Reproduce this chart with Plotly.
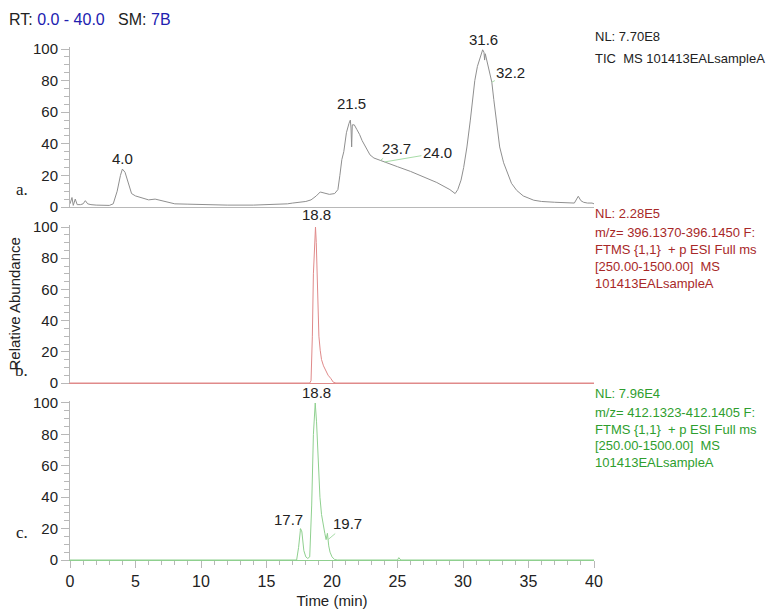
import numpy as np
import plotly.graph_objects as go

# ---------------- data ----------------
tic_rt = [0.0, 0.15, 0.25, 0.4, 0.55, 0.8, 1.0, 1.17, 1.35, 1.6, 2.0, 2.5, 3.0, 3.3, 3.6, 3.85, 4.0, 4.2,
          4.45, 4.7, 5.0, 5.5, 6.0, 6.5, 7.0, 7.5, 8.0, 9.0, 10.0, 12.0, 14.0, 15.0, 16.0, 16.6, 17.0,
          17.5, 18.0, 18.4, 18.8, 19.1, 19.4, 19.8, 20.2, 20.45, 20.6, 20.75, 20.9, 21.1, 21.3, 21.4,
          21.45, 21.5, 21.55, 21.7, 21.9, 22.1, 22.3, 22.6, 22.9, 23.2, 23.5, 23.7, 24.0, 24.5, 25.0,
          26.0, 27.0, 28.0, 29.0, 29.4, 29.6, 29.85, 30.05, 30.3, 30.56, 30.75, 30.9, 31.1, 31.3, 31.5,
          31.6, 31.65, 31.7, 31.85, 32.0, 32.1, 32.2, 32.35, 32.5, 32.65, 32.8, 33.1, 33.4, 33.7, 34.1,
          34.6, 35.4, 36.0, 37.0, 37.9, 38.5, 38.8, 39.0, 39.2, 39.5, 39.85, 40.0]
tic_ab = [2, 6, 1, 5, 1.5, 1.5, 2, 4, 2, 1.5, 1.2, 1, 1, 2, 10, 20, 24, 22,
          15, 8.5, 7, 5.5, 4.5, 5, 4, 3, 2, 1.8, 1.5, 1.2, 1.2, 1.5, 1.7, 2, 2.5,
          3, 3.5, 4.5, 7, 9.5, 9, 8, 8.5, 11, 20, 30, 35, 47, 53, 55,
          50, 38, 52, 52, 49, 46, 42, 37, 33, 31, 30, 29.5, 28.5, 27, 25.5,
          22.5, 19, 15.5, 11, 8.5, 11, 17, 25, 38, 55, 68, 80, 89, 95, 99.5,
          98, 93, 97, 91, 86, 82, 79, 68, 59, 48, 38, 28, 21, 15, 10.5,
          7, 4.3, 3.5, 3, 2.5, 2.5, 6.8, 4, 3, 2.5, 2.5, 2]

m396_rt = [0.0, 18.3, 18.4, 18.5, 18.58, 18.66, 18.74, 18.8, 18.86, 18.93, 19.0, 19.1, 19.2, 19.35,
           19.5, 19.7, 19.9, 20.1, 20.3, 40.0]
m396_ab = [0, 0, 1.5, 30, 70, 92, 100, 90, 70, 45, 30, 21, 15, 11, 8, 5, 3, 0.5, 0, 0]

m412_rt = [0.0, 17.3, 17.45, 17.6, 17.7, 17.85, 18.0, 18.15, 18.3, 18.45, 18.58, 18.72, 18.82, 18.95,
           19.08, 19.2, 19.32, 19.45, 19.55, 19.65, 19.75, 19.85, 20.0, 20.2, 20.4, 25.0, 25.1, 25.25, 40.0]
m412_ab = [0, 0, 8, 20, 18, 6, 2, 1, 2, 35, 80, 100, 88, 63,
           40, 29, 22, 17, 13, 17, 9, 5, 2, 0.3, 0, 0, 1.5, 0, 0]

tic_peaks = [4.0, 21.5, 23.7, 24.0, 31.6, 32.2]
m396_peaks = [18.8]
m412_peaks = [17.7, 18.8, 19.7]

x_ticks = [0, 5, 10, 15, 20, 25, 30, 35, 40]
y_ticks = [0, 20, 40, 60, 80, 100]

tic_info = ["NL: 7.70E8", "TIC  MS 101413EALsampleA"]
m396_info = ["NL: 2.28E5", "m/z= 396.1370-396.1450 F:", "FTMS {1,1}  + p ESI Full ms",
             "[250.00-1500.00]  MS", "101413EALsampleA"]
m412_info = ["NL: 7.96E4", "m/z= 412.1323-412.1405 F:", "FTMS {1,1}  + p ESI Full ms",
             "[250.00-1500.00]  MS", "101413EALsampleA"]

# ---------------- layout geometry (pixels) ----------------
W, H = 773, 610
L, R = 70, 594          # x=0 and x=40
B = 560                 # bottom of lowest panel
TOP = 44                # top of plotting area
PW, PH = R - L, B - TOP
panels = [(49, 207), (227, 383), (403, 560)]   # (pixel of 100, pixel of 0)
YMAX = 101.5

def py(p):
    return (B - p) / PH

def pxx(p):
    return (p - L) / PW

SANS = "Liberation Sans, Arial, sans-serif"
SERIF = "Liberation Serif, Times New Roman, serif"
GREY_TRACE = "#8f8f8f"
RED_TRACE = "#e08a8a"
GREEN_TRACE = "#8fd08f"
RED_TEXT = "#a82828"
GREEN_TEXT = "#2e9e2e"
AXIS = "#b8b8b8"

fig = go.Figure()
series = [(tic_rt, tic_ab, GREY_TRACE, "TIC"),
          (m396_rt, m396_ab, RED_TRACE, "m/z 396"),
          (m412_rt, m412_ab, GREEN_TRACE, "m/z 412")]
for i, (xr, yr, col, name) in enumerate(series):
    sfx = "" if i == 0 else str(i + 1)
    fig.add_trace(go.Scatter(x=xr, y=yr, mode="lines", name=name,
                             line=dict(color=col, width=1), xaxis="x" + sfx, yaxis="y" + sfx,
                             showlegend=False, hoverinfo="x+y"))

layout = dict(width=W, height=H, margin=dict(l=L, r=W - R, t=TOP, b=H - B, autoexpand=False),
              paper_bgcolor="white", plot_bgcolor="white", showlegend=False,
              font=dict(family=SANS, color="#222222"))
baseline_cols = [AXIS, RED_TRACE, GREEN_TRACE]
for i, (p100, p0) in enumerate(panels):
    sfx = "" if i == 0 else str(i + 1)
    top = p0 - (p0 - p100) * YMAX / 100.0
    ydom = [max(0.0, py(p0)), min(1.0, py(top))]
    xa = dict(domain=[0, 1], range=[0, 40], anchor="y" + sfx, showgrid=False, zeroline=False,
              showline=True, linecolor=baseline_cols[i], linewidth=1, fixedrange=True,
              automargin=False)
    if i < 2:
        xa.update(showticklabels=False, ticks="")
    else:
        xa.update(tickvals=x_ticks, ticks="outside", ticklen=7, tickcolor=AXIS, tickwidth=1,
                  tickfont=dict(size=16, family=SANS, color="#222222"),
                  minor=dict(dtick=1, ticks="outside", ticklen=4, tickcolor=AXIS),
                  title=dict(text="Time (min)", font=dict(size=15, family=SANS, color="#222222"),
                             standoff=6))
    ya = dict(domain=ydom, range=[0, YMAX], anchor="x" + sfx, showgrid=False, zeroline=False,
              showline=True, linecolor=AXIS, linewidth=1, tickvals=y_ticks, ticks="outside",
              ticklen=8, tickcolor=AXIS, tickfont=dict(size=15, family=SANS, color="#222222"),
              minor=dict(dtick=5, ticks="outside", ticklen=5, tickcolor=AXIS), fixedrange=True,
              automargin=False)
    if i == 1:
        ya.update(title=dict(text="Relative Abundance", font=dict(size=15, family=SANS, color="#222222"),
                             standoff=8))
    layout["xaxis" + sfx] = xa
    layout["yaxis" + sfx] = ya
fig.update_layout(**layout)

ann = []
# header
ann.append(dict(xref="paper", yref="paper", x=pxx(7), y=py(20), xanchor="left", yanchor="middle",
                showarrow=False, font=dict(size=16, family=SANS, color="#222222"),
                text="RT: <span style='color:#2020b0'>0.0 - 40.0</span>   SM: <span style='color:#2020b0'>7B</span>"))

# info blocks
def info_block(lines, y0, color, gaps):
    y = y0
    for k, t in enumerate(lines):
        ann.append(dict(xref="paper", yref="paper", x=pxx(593), y=py(y), xanchor="left", yanchor="middle",
                        showarrow=False, text=t, font=dict(size=13, family=SANS, color=color)))
        y += gaps[0] if k == 0 else gaps[1]

info_block(tic_info, 37, "#222222", (21, 21))
info_block(m396_info, 213, RED_TEXT, (19.5, 17))
info_block(m412_info, 393, GREEN_TEXT, (19.5, 16.5))

# panel letters
for letter, ypix in [("a.", 189), ("b.", 370), ("c.", 532)]:
    ann.append(dict(xref="paper", yref="paper", x=pxx(21.5), y=py(ypix), xanchor="center",
                    yanchor="middle", showarrow=False, text=letter,
                    font=dict(size=17, family=SERIF, color="#222222")))

# peak labels
label_style = {  # (panel index, rt): ('up', yshift) or ('lead', ax, ay)
    (0, 4.0): ("up", 11), (0, 21.5): ("up", 17), (0, 23.7): ("lead", 16, -12),
    (0, 24.0): ("lead", 53, -9), (0, 31.6): ("up", 10), (0, 32.2): ("lead", 19, -10),
    (1, 18.8): ("up", 12),
    (2, 17.7): ("lead", -13, -12), (2, 18.8): ("up", 10), (2, 19.7): ("lead", 19, -16),
}
for i, (peaks, (xr, yr, col, name)) in enumerate(zip([tic_peaks, m396_peaks, m412_peaks], series)):
    sfx = "" if i == 0 else str(i + 1)
    grid = np.linspace(0, 40, 8001)
    curve = np.interp(grid, xr, yr)
    for rt in peaks:
        st = label_style[(i, rt)]
        txt = f"{rt:.1f}"
        if st[0] == "up":
            win = (grid >= rt - 0.15) & (grid <= rt + 0.15)
            yv = float(curve[win].max())
            ann.append(dict(xref="x" + sfx, yref="y" + sfx, x=rt, y=yv, text=txt, showarrow=False,
                            yanchor="middle", xanchor="center", yshift=st[1],
                            font=dict(size=15, family=SANS, color="#222222")))
        else:
            yv = float(np.interp(rt, xr, yr))
            ann.append(dict(xref="x" + sfx, yref="y" + sfx, x=rt, y=yv, text=txt, showarrow=True,
                            arrowhead=0, arrowwidth=1, arrowcolor="#a8dca8", ax=st[1], ay=st[2],
                            standoff=0, startstandoff=0,
                            font=dict(size=15, family=SANS, color="#222222")))
fig.update_layout(annotations=ann)

fig.write_html("out.html", config={"displayModeBar": False},
               post_script="document.body.style.margin='0px';document.body.style.padding='0px';")
